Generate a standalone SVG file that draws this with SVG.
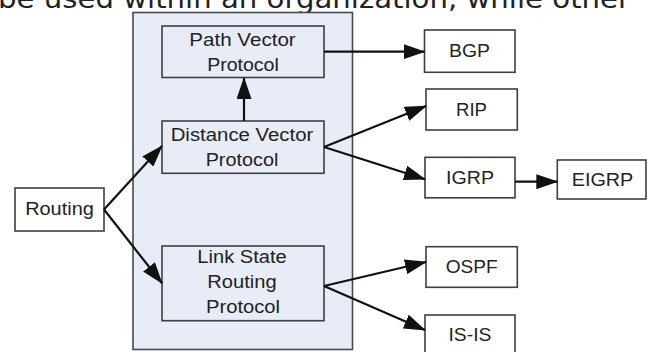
<svg xmlns="http://www.w3.org/2000/svg" width="647" height="352" viewBox="0 0 647 352">
  <style>
    .cont { fill: #E7ECF6; stroke: #4a4a4a; stroke-width: 1.6; }
    .inner { fill: #E7ECF6; stroke: #3f3f3f; stroke-width: 1.6; }
    .leaf { fill: #ffffff; stroke: #3f3f3f; stroke-width: 1.6; }
    .lbl { font-family: "Liberation Sans", Arial, sans-serif; font-size: 17.5px; fill: #222222; text-anchor: middle; }
    .head { font-family: "DejaVu Sans", Verdana, sans-serif; font-size: 26px; fill: #222; }
    .conn line { stroke: #111; stroke-width: 2.2; fill: none; marker-end: url(#ah); }
  </style>
  <defs>
    <marker id="ah" markerWidth="22" markerHeight="15" refX="21" refY="7.5" orient="auto" markerUnits="userSpaceOnUse">
      <path d="M0,0 L22,7.5 L0,15 z" fill="#111"/>
    </marker>
  </defs>
  <rect x="0" y="0" width="647" height="352" fill="#ffffff"/>
  <text class="head" x="-2" y="8" textLength="632" lengthAdjust="spacingAndGlyphs">be used within an organization, while other</text>

  <g id="container">
    <rect class="cont" x="133" y="12.5" width="219.5" height="337"/>
  </g>

  <g id="routing">
    <rect class="leaf" x="15" y="188" width="89" height="43"/>
    <text class="lbl" x="59.5" y="215" textLength="68.7" lengthAdjust="spacingAndGlyphs">Routing</text>
  </g>

  <g id="path-vector">
    <rect class="inner" x="162" y="26" width="162" height="51.5"/>
    <text class="lbl" x="242.5" y="45.7" textLength="106.4" lengthAdjust="spacingAndGlyphs">Path Vector</text>
    <text class="lbl" x="243" y="70.7" textLength="71.7" lengthAdjust="spacingAndGlyphs">Protocol</text>
  </g>

  <g id="distance-vector">
    <rect class="inner" x="162" y="121" width="162" height="52.3"/>
    <text class="lbl" x="242" y="140.7" textLength="142.7" lengthAdjust="spacingAndGlyphs">Distance Vector</text>
    <text class="lbl" x="242" y="165.7" textLength="72.7" lengthAdjust="spacingAndGlyphs">Protocol</text>
  </g>

  <g id="link-state">
    <rect class="inner" x="162" y="246" width="162" height="74.7"/>
    <text class="lbl" x="242" y="263.3" textLength="89.3" lengthAdjust="spacingAndGlyphs">Link State</text>
    <text class="lbl" x="242" y="288.3" textLength="69.3" lengthAdjust="spacingAndGlyphs">Routing</text>
    <text class="lbl" x="243" y="313.3" textLength="74" lengthAdjust="spacingAndGlyphs">Protocol</text>
  </g>

  <g id="bgp">
    <rect class="leaf" x="424.5" y="30" width="90.5" height="42.3"/>
    <text class="lbl" x="469.5" y="57" textLength="41" lengthAdjust="spacingAndGlyphs">BGP</text>
  </g>

  <g id="rip">
    <rect class="leaf" x="426" y="89" width="91.3" height="41"/>
    <text class="lbl" x="471.5" y="115.5" textLength="31" lengthAdjust="spacingAndGlyphs">RIP</text>
  </g>

  <g id="igrp">
    <rect class="leaf" x="425" y="157.3" width="90" height="40.5"/>
    <text class="lbl" x="470" y="184" textLength="48" lengthAdjust="spacingAndGlyphs">IGRP</text>
  </g>

  <g id="eigrp">
    <rect class="leaf" x="557.3" y="160" width="88.7" height="39"/>
    <text class="lbl" x="602.5" y="185.5" textLength="61.6" lengthAdjust="spacingAndGlyphs">EIGRP</text>
  </g>

  <g id="ospf">
    <rect class="leaf" x="426" y="246.7" width="91.3" height="40.6"/>
    <text class="lbl" x="471.7" y="273" textLength="52" lengthAdjust="spacingAndGlyphs">OSPF</text>
  </g>

  <g id="is-is">
    <rect class="leaf" x="425" y="315" width="90" height="45"/>
    <text class="lbl" x="470" y="340.7" textLength="43" lengthAdjust="spacingAndGlyphs">IS-IS</text>
  </g>

  <g id="connectors" class="conn">
    <line x1="104" y1="209.5" x2="162" y2="146"/>
    <line x1="104" y1="209.5" x2="162" y2="283.3"/>
    <line x1="244" y1="121" x2="244" y2="78"/>
    <line x1="324" y1="51.7" x2="424.5" y2="51.7"/>
    <line x1="324" y1="147" x2="426" y2="106"/>
    <line x1="324" y1="147" x2="425" y2="179.3"/>
    <line x1="515" y1="181.7" x2="557.3" y2="181.7"/>
    <line x1="324" y1="286" x2="426" y2="262"/>
    <line x1="324" y1="286" x2="425" y2="330"/>
  </g>
</svg>
